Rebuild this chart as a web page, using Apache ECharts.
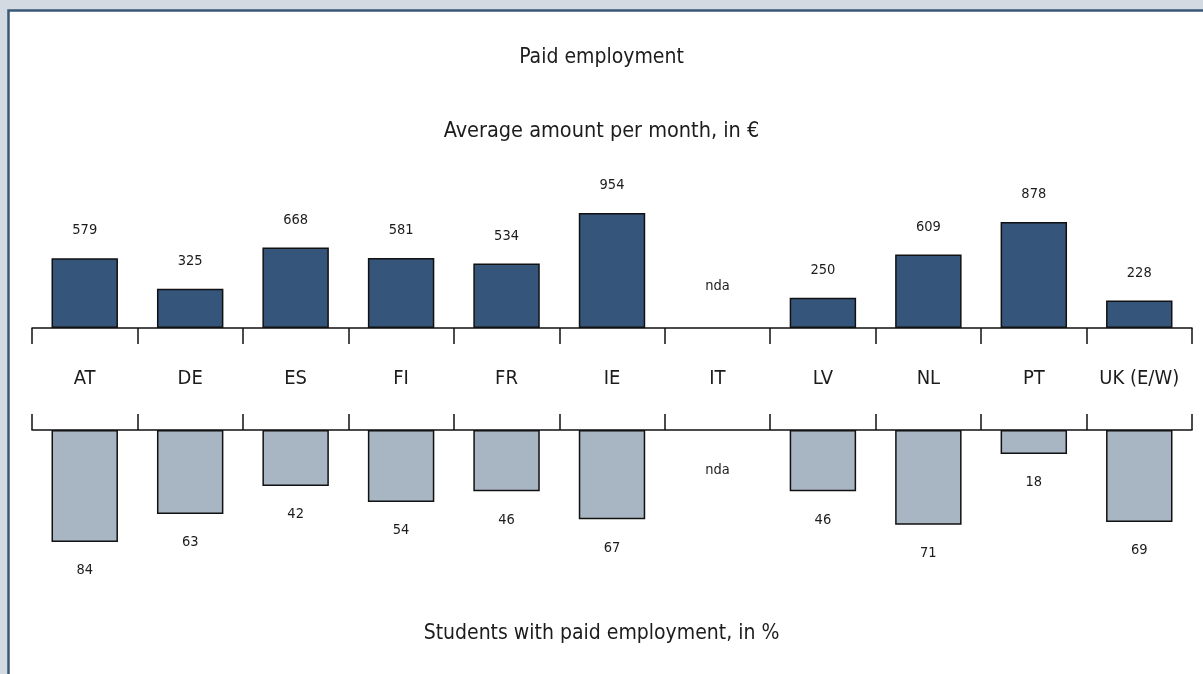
<!DOCTYPE html>
<html>
<head>
<meta charset="utf-8">
<script src="https://cdn.jsdelivr.net/npm/echarts@6/dist/echarts.min.js"></script>
<style>
  html, body { margin: 0; padding: 0; background: #d3dae2; }
  #chart { width: 1203px; height: 674px; }
</style>
</head>
<body>
<div id="chart"></div>
<script>
// Country codes along the shared axis
const categories = ['AT', 'DE', 'ES', 'FI', 'FR', 'IE', 'IT', 'LV', 'NL', 'PT', 'UK (E/W)'];
// Average amount earned per month, in euro (null = no data available)
const amountEuro = [579, 325, 668, 581, 534, 954, null, 250, 609, 878, 228];
// Share of students with paid employment, in percent
const sharePct = [84, 63, 42, 54, 46, 67, null, 46, 71, 18, 69];
const missingLabel = 'nda';

const FONT = '"Liberation Sans Narrow", "DejaVu Sans Condensed", "Arial Narrow", sans-serif';
const TEXT = '#1c1c1c';
const EDGE = '#111111';

// Missing values become empty placeholders that only carry the "nda" label
function toBarData(values, distance) {
  return values.map(v => v == null
    ? { value: 0, itemStyle: { color: 'transparent', borderWidth: 0 },
        label: { formatter: missingLabel, distance: distance } }
    : v);
}

const axisCommon = {
  type: 'category',
  data: categories,
  boundaryGap: true,
  axisLine: { onZero: false, lineStyle: { color: EDGE, width: 1.5 } },
  axisTick: { show: true, length: 16, inside: false, alignWithLabel: false,
              lineStyle: { color: EDGE, width: 1.5 } },
  splitLine: { show: false }
};

const chart = echarts.init(document.getElementById('chart'), null, { renderer: 'canvas' });
chart.setOption({
  backgroundColor: '#d3dae2',
  animation: false,
  textStyle: { fontFamily: FONT },
  graphic: [
    { type: 'rect', z: -10, silent: true,
      shape: { x: 8.5, y: 10.5, width: 1400, height: 900 },
      style: { fill: '#ffffff', stroke: '#3a5878', lineWidth: 2.5 } },
    { type: 'text', left: 'center', top: 47,
      style: { text: 'Paid employment', font: '21px ' + FONT, fill: TEXT } },
    { type: 'text', left: 'center', top: 120,
      style: { text: 'Average amount per month, in €', font: '21.5px ' + FONT, fill: TEXT } },
    { type: 'text', left: 'center', top: 623,
      style: { text: 'Students with paid employment, in %', font: '21px ' + FONT, fill: TEXT } }
  ],
  grid: [
    { left: 32, right: 11, top: 207.4, height: 120.6 },
    { left: 32, right: 11, top: 430, height: 133.33 }
  ],
  xAxis: [
    Object.assign({}, axisCommon, {
      gridIndex: 0, position: 'bottom',
      axisLabel: { show: true, margin: 41, fontSize: 20, color: TEXT, fontFamily: FONT,
                   interval: 0, lineHeight: 20 }
    }),
    Object.assign({}, axisCommon, {
      gridIndex: 1, position: 'top',
      axisLabel: { show: false }
    })
  ],
  yAxis: [
    { type: 'value', gridIndex: 0, min: 0, max: 1000, show: false, splitLine: { show: false } },
    { type: 'value', gridIndex: 1, min: 0, max: 100, inverse: true, show: false, splitLine: { show: false } }
  ],
  series: [
    {
      name: 'Average amount per month',
      type: 'bar', xAxisIndex: 0, yAxisIndex: 0,
      barWidth: '63%',
      data: toBarData(amountEuro, 34),
      itemStyle: { color: '#36557a', borderColor: EDGE, borderWidth: 1.5 },
      label: { show: true, position: 'top', distance: 20, fontSize: 14.5, color: TEXT, fontFamily: FONT }
    },
    {
      name: 'Students with paid employment',
      type: 'bar', xAxisIndex: 1, yAxisIndex: 1,
      barWidth: '63%',
      data: toBarData(sharePct, 33),
      itemStyle: { color: '#a8b5c3', borderColor: EDGE, borderWidth: 1.5 },
      label: { show: true, position: 'bottom', distance: 21, fontSize: 14.5, color: TEXT, fontFamily: FONT }
    }
  ]
});
</script>
</body>
</html>
